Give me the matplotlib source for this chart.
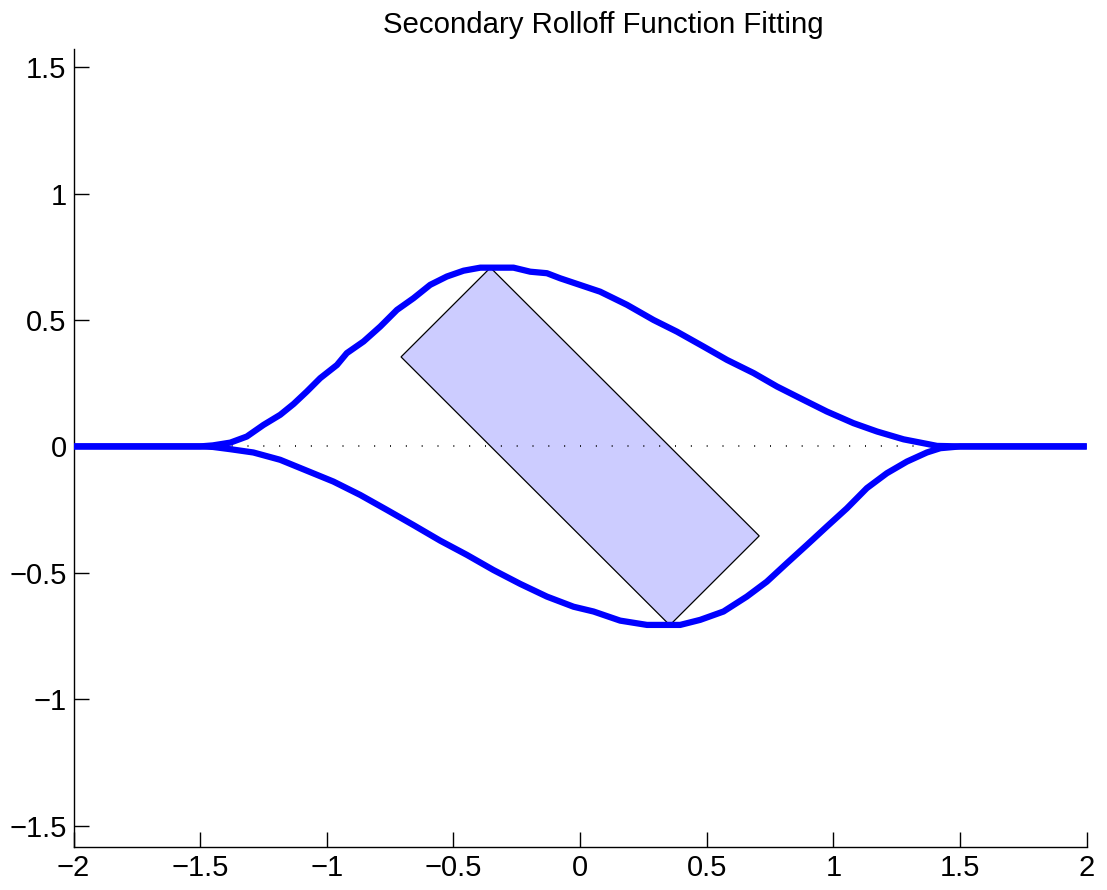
import matplotlib
matplotlib.use('Agg')
import matplotlib.pyplot as plt

plt.rcParams['font.family'] = ['Liberation Sans', 'DejaVu Sans']

# Upper rolloff curve
upper_x = [-2.0, -1.5, -1.45, -1.381, -1.316, -1.250, -1.184, -1.131, -1.079,
           -1.026, -0.960, -0.921, -0.855, -0.789, -0.723, -0.658, -0.592,
           -0.526, -0.460, -0.394, -0.263, -0.197, -0.131, -0.079, 0.079,
           0.185, 0.290, 0.382, 0.487, 0.580, 0.685, 0.777, 0.882, 0.974,
           1.079, 1.172, 1.277, 1.369, 1.409, 1.5, 2.0]
upper_y = [0, 0, 0.004, 0.015, 0.039, 0.085, 0.125, 0.168, 0.217,
           0.270, 0.322, 0.369, 0.415, 0.474, 0.540, 0.586, 0.639,
           0.672, 0.695, 0.707, 0.707, 0.691, 0.685, 0.665, 0.612,
           0.560, 0.500, 0.454, 0.395, 0.342, 0.290, 0.237, 0.184, 0.138,
           0.092, 0.059, 0.028, 0.010, 0.002, 0, 0]

# Lower rolloff curve
lower_x = [-2.0, -1.5, -1.45, -1.381, -1.290, -1.184, -1.079, -0.974, -0.868,
           -0.763, -0.658, -0.552, -0.447, -0.342, -0.236, -0.131, -0.026,
           0.053, 0.158, 0.264, 0.395, 0.474, 0.566, 0.658, 0.737, 0.816,
           0.895, 0.974, 1.053, 1.132, 1.211, 1.290, 1.369, 1.422, 1.5, 2.0]
lower_y = [0, 0, -0.002, -0.011, -0.024, -0.053, -0.096, -0.139, -0.192,
           -0.251, -0.311, -0.373, -0.429, -0.489, -0.544, -0.594, -0.634,
           -0.653, -0.689, -0.706, -0.706, -0.686, -0.653, -0.594, -0.535, -0.462,
           -0.390, -0.317, -0.245, -0.165, -0.106, -0.060, -0.024, -0.007, 0, 0]

# Rotated rectangle corners
rect_x = [-0.707, -0.354, 0.707, 0.354]
rect_y = [0.354, 0.707, -0.354, -0.707]

# Dotted zero line
zero_x = [-1.5, 1.5]
zero_y = [0, 0]

x_ticks = [-2, -1.5, -1, -0.5, 0, 0.5, 1, 1.5, 2]
y_ticks = [-1.5, -1, -0.5, 0, 0.5, 1, 1.5]

fig = plt.figure(figsize=(11.07, 8.9), dpi=100)
ax = fig.add_axes([0.0664, 0.0487, 0.9153, 0.8963])

ax.fill(rect_x, rect_y, facecolor='#ccccff', edgecolor='black', lw=0.9, zorder=1)
ax.plot(zero_x, zero_y, color='black', lw=1.2, linestyle=(0, (0.6, 8.9)), zorder=2)
ax.plot(upper_x, upper_y, color='#0000ff', lw=4.5, solid_capstyle='butt', zorder=3)
ax.plot(lower_x, lower_y, color='#0000ff', lw=4.5, solid_capstyle='butt', zorder=3)

ax.set_xlim(-2, 2)
ax.set_ylim(-1.583, 1.572)
ax.set_xticks(x_ticks)
ax.set_yticks(y_ticks)
ax.set_xticklabels(['\u22122', '\u22121.5', '\u22121', '\u22120.5', '0', '0.5', '1', '1.5', '2'])
ax.set_yticklabels(['\u22121.5', '\u22121', '\u22120.5', '0', '0.5', '1', '1.5'])
ax.tick_params(direction='in', length=11, width=1, labelsize=21, pad=5)
ax.spines['top'].set_visible(False)
ax.spines['right'].set_visible(False)
ax.spines['left'].set_linewidth(1)
ax.spines['bottom'].set_linewidth(1)

fig.text(603 / 1107, 1 - 32.7 / 890, 'Secondary Rolloff Function Fitting',
         ha='center', va='baseline', fontsize=21.2)

fig.savefig('out.png', dpi=100)
